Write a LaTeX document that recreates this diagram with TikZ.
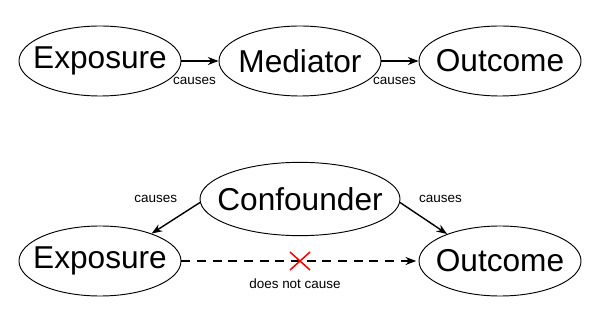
\documentclass[tikz,border=0pt]{standalone}
\usepackage{fontspec}
\setmainfont{Liberation Sans}
\usetikzlibrary{arrows.meta,positioning,shapes.geometric}
\begin{document}
\begin{tikzpicture}[x=0.03cm,y=-0.03cm,
  var/.style={ellipse,draw,line width=0.8pt,inner xsep=-0.3cm,inner ysep=0pt,minimum width=4.86cm,minimum height=2.1cm,font=\fontsize{27}{30}\selectfont},
  small/.style={font=\fontsize{11.5}{13}\selectfont},
  cause/.style={line width=1.2pt,-{Stealth[length=3.2mm,width=2.4mm]}}]
\useasboundingbox (0,0) rectangle (600,319);
\node[var] (expo1) at (100,61) {Exposure};
\node[var] (med) at (300,61) {Mediator};
\node[var] (out1) at (500,61) {Outcome};
\draw[cause] (expo1) -- (med) node[small,pos=0.35,below=0.36cm] {causes};
\draw[cause] (med) -- (out1) node[small,pos=0.35,below=0.36cm] {causes};
\node[var,inner xsep=-0.4cm,minimum width=6cm,minimum height=2.2cm] (conf) at (300,199) {Confounder};
\node[var] (expo2) at (100,261) {Exposure};
\node[var] (out2) at (500,261) {Outcome};
\draw[cause] (conf.182) -- (expo2.28) node[small,midway,above left=0.33cm and -0.18cm] {causes};
\draw[cause] (conf.-2) -- (out2.153) node[small,midway,above right=0.33cm and -0.27cm] {causes};
\draw[cause,dash pattern=on 0.27cm off 0.2cm,shorten >=2pt] (expo2) -- (out2) coordinate[midway] (mid);
\draw[red,line width=1.3pt] ([shift={(-10,-9)}]mid) -- ([shift={(10,9)}]mid)
  ([shift={(-10,9)}]mid) -- ([shift={(10,-9)}]mid);
\node[small,below=0.42cm of mid,xshift=-0.15cm] (nolab) {does not cause};
\end{tikzpicture}
\end{document}
